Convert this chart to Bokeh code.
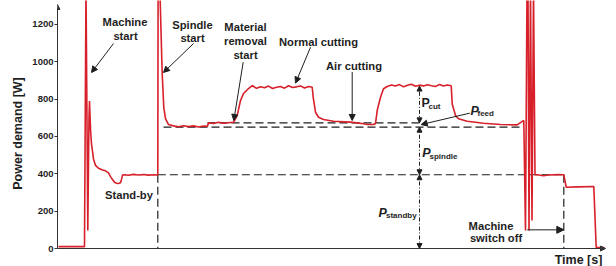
from bokeh.plotting import figure
from bokeh.models import Range1d, FixedTicker, Label, Arrow, NormalHead
from bokeh.embed import file_html
from bokeh.resources import INLINE

# ---- data (time in arbitrary units, power in W) ----
time = [0, 26, 27.5, 29.3, 30.5, 31, 32, 33, 35, 37, 40, 44, 47, 50, 52, 54, 56, 58, 60, 62, 63, 64,
        66, 70, 75, 80, 85, 90, 95, 99.3,
        99.6, 101.3, 103.7, 105.3, 107, 110, 115, 120, 125, 130, 135, 140, 145, 149,
        150, 155, 160, 165, 170, 175,
        178.7, 182, 185, 190, 193.7, 198, 202, 206, 210, 214, 218, 222, 226, 230, 234, 238, 242, 246, 250, 253.7,
        254.7, 257, 260, 265, 275, 292, 305, 308.7, 315, 317,
        318.7, 322, 325, 328.7, 333, 337, 341, 345, 349, 353, 357, 361, 365, 369, 373, 377, 381, 385, 389, 392.7,
        393.7, 395, 397, 400, 408.7, 425, 442, 458.7, 465.3,
        467, 468.5, 469.5, 470.5, 472, 473.5, 475, 476.5,
        478.7, 485, 490, 500, 505.3, 507.7, 520, 535.3, 537.7, 546]
power = [10, 10, 1400, 96, 700, 790, 640, 560, 480, 445, 430, 420, 416, 405, 385, 370, 355, 350, 348, 352, 370, 393,
         395, 392, 397, 394, 396, 393, 395, 394,
         1400, 1400, 937, 755, 696, 664, 657, 652, 658, 653, 657, 651, 656, 655,
         674, 670, 676, 671, 674, 676,
         712, 793, 830, 857, 873, 858, 866, 861, 870, 857, 864, 868, 859, 872, 862, 866, 871, 860, 868, 864,
         810, 730, 703, 691, 682, 677, 668, 664, 664, 670,
         739, 810, 856, 868, 876, 870, 878, 866, 874, 880, 869, 875, 871, 877, 872, 868, 879, 870, 876, 872,
         775, 750, 712, 695, 682, 671, 664, 662, 686,
         96, 1400, 1400, 96, 1400, 150, 1400, 395,
         395, 390, 394, 396, 395, 328, 330, 332, 5, 5]

y_ticks = [0, 200, 400, 600, 800, 1000, 1200]

# reference levels (W) and event times
standby_level = 395
spindle_level = 650
feed_level = 673
cut_level = 870
spindle_start_t = 99.3
switch_off_t = 505.3
spindle_line_span = (105, 462)
feed_line_span = (149, 362)
dim_t = 361

FONT = "Liberation Sans"
INK = "#1e1e1e"
RED = "#d8202a"

p = figure(width=616, height=266, output_backend="svg", toolbar_location=None,
           x_range=Range1d(-1, 558), y_range=Range1d(-96.4, 1328.5),
           x_axis_location=None, min_border_left=57, min_border_right=0,
           min_border_top=0, min_border_bottom=0)
p.grid.visible = False
p.outline_line_color = None
p.background_fill_color = "white"

ax = p.yaxis[0]
ax.ticker = FixedTicker(ticks=y_ticks)
ax.bounds = (0, 1290)
ax.axis_line_color = "#333333"
ax.major_tick_line_color = "#333333"
ax.major_tick_out = 3
ax.major_tick_in = 0
ax.minor_tick_line_color = None
ax.major_label_standoff = 1
ax.major_label_text_font = FONT
ax.major_label_text_font_style = "bold"
ax.major_label_text_font_size = "9.5px"
ax.major_label_text_color = INK
ax.axis_label = "Power demand [W]"
ax.axis_label_text_font = FONT
ax.axis_label_text_font_style = "bold"
ax.axis_label_text_font_size = "12.5px"
ax.axis_label_text_color = INK
ax.axis_label_standoff = 4

# axis arrows
p.add_layout(Arrow(end=NormalHead(size=5, fill_color="#333333", line_color="#333333"),
                   x_start=-1, y_start=1270, x_end=-1, y_end=1307, line_color="#333333", line_width=1))
p.add_layout(Arrow(end=NormalHead(size=5, fill_color="#333333", line_color="#333333"),
                   x_start=-1, y_start=0, x_end=547, y_end=0, line_color="#333333", line_width=1))

# dashed reference lines
dash = dict(line_color=INK, line_width=1.2, line_dash="8 4")
p.segment(x0=[spindle_start_t, spindle_line_span[0], feed_line_span[0], spindle_start_t, switch_off_t],
          y0=[standby_level, spindle_level, feed_level, standby_level, standby_level],
          x1=[switch_off_t, spindle_line_span[1], feed_line_span[1], spindle_start_t, switch_off_t],
          y1=[standby_level, spindle_level, feed_level, 0, 0], **dash)

# power curve
p.line(time, power, line_color=RED, line_width=1.6)

# dimension arrows
for a, b in [(feed_level, cut_level), (standby_level, spindle_level), (0, standby_level)]:
    p.add_layout(Arrow(start=NormalHead(size=5, fill_color=INK, line_color=INK),
                       end=NormalHead(size=5, fill_color=INK, line_color=INK),
                       x_start=dim_t, y_start=a, x_end=dim_t, y_end=b,
                       line_color=INK, line_width=1, line_dash="4 2 1 2"))

def arrow(x0, y0, x1, y1, size=6):
    p.add_layout(Arrow(end=NormalHead(size=size, fill_color=INK, line_color=INK),
                       x_start=x0, y_start=y0, x_end=x1, y_end=y1, line_color=INK, line_width=1))

def label(x, y, text, size="11.2px", align="center", style="bold"):
    p.add_layout(Label(x=x, y=y, text=text, text_font=FONT, text_font_size=size,
                       text_font_style=style, text_color=INK, text_align=align,
                       text_baseline="middle"))

label(66.5, 1211, "Machine")
label(67, 1141, "start")
arrow(55, 1098, 33, 943)

label(134, 1195, "Spindle")
label(134, 1125, "start")
arrow(135, 1098, 105, 943)

label(187, 1187, "Material")
label(187, 1112, "removal")
label(187, 1039, "start")
arrow(184.7, 998, 175.3, 686)

label(260, 1104, "Normal cutting")
arrow(252, 1078, 237, 886)

label(295.5, 975, "Air cutting")
arrow(293.7, 945, 293.7, 686)

label(70.5, 284, "Stand-by")

label(432.5, 123, "Machine")
label(437.5, 54, "switch off")
arrow(468.7, 100, switch_off_t, 100, size=7)

# P labels with subscripts
label(363, 777, "P", size="12.5px", align="left")
label(370, 763, "cut", size="8px", align="left")
label(412, 734, "P", size="12.5px", align="left", style="bold italic")
label(419, 722, "feed", size="8px", align="left")
arrow(411.3, 725, 362.7, 664)
label(363.7, 509, "P", size="12.5px", align="left", style="bold italic")
label(371, 493, "spindle", size="8px", align="left")
label(320, 190, "P", size="12.5px", align="left", style="bold italic")
label(327.5, 177, "standby", size="8px", align="left")

p.add_layout(Label(x=520, y=-62, text="Time [s]", text_font=FONT, text_font_size="12.5px",
                   text_font_style="bold", text_color=INK, text_align="center",
                   text_baseline="alphabetic"))

open("out.html", "w").write(file_html(p, INLINE))
